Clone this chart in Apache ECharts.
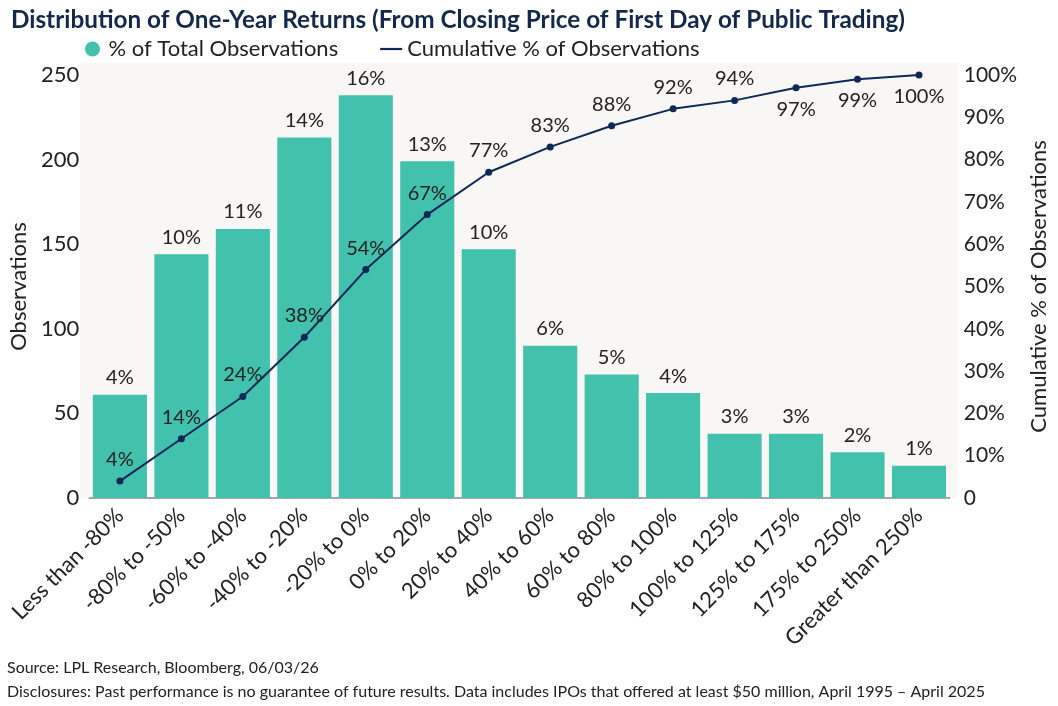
<!DOCTYPE html>
<html>
<head>
<meta charset="utf-8">
<script src="https://cdn.jsdelivr.net/npm/echarts@6/dist/echarts.min.js"></script>
<style>
  html, body { margin: 0; padding: 0; background: #fff; }
  #chart { width: 1058px; height: 706px; }
</style>
</head>
<body>
<div id="chart"></div>
<script>
// buckets of one-year return
const categories = ['Less than -80%', '-80% to -50%', '-60% to -40%', '-40% to -20%', '-20% to 0%',
    '0% to 20%', '20% to 40%', '40% to 60%', '60% to 80%', '80% to 100%',
    '100% to 125%', '125% to 175%', '175% to 250%', 'Greater than 250%'];
// number of observations (bars)
const observations = [61, 144, 159, 213, 238, 199, 147, 90, 73, 62, 38, 38, 27, 19];
// % of total shown above each bar
const pctOfTotal = [4, 10, 11, 14, 16, 13, 10, 6, 5, 4, 3, 3, 2, 1];
// cumulative % (line)
const cumulative = [4, 14, 24, 38, 54, 67, 77, 83, 88, 92, 94, 97, 99, 100];
const leftTicks = [0, 250, 50];
const rightTicks = [0, 100, 10];

const teal = '#42c1ad';
const navy = '#0e2858';
const font = 'Lato';
// points whose label sits under the marker
const labelBelow = [11, 12, 13];

const chart = echarts.init(document.getElementById('chart'));

chart.setOption({
    backgroundColor: '#fff',
    textStyle: { fontFamily: font },
    // plot background reaches a little above the top tick
    graphic: [{
        type: 'rect', z: -10, silent: true,
        shape: { x: 80, y: 63, width: 878, height: 435 },
        style: { fill: '#f8f7f5' }
    }],
    title: [{
        text: 'Distribution of One-Year Returns (From Closing Price of First Day of Public Trading)',
        left: 6, top: 3,
        textStyle: { fontFamily: font, fontSize: 24.3, fontWeight: 'bold', color: '#14284b' }
    }, {
        text: 'Source: LPL Research, Bloomberg, 06/03/26',
        left: 2, top: 655,
        textStyle: { fontFamily: font, fontSize: 16, fontWeight: 'normal', color: '#222' }
    }, {
        text: 'Disclosures: Past performance is no guarantee of future results. Data includes IPOs that offered at least $50 million, April 1995 \u2013 April 2025',
        left: 2, top: 679,
        textStyle: { fontFamily: font, fontSize: 16, fontWeight: 'normal', color: '#222' }
    }],
    legend: {
        left: 80, top: 33,
        itemGap: 42,
        itemWidth: 22, itemHeight: 15,
        textStyle: { fontFamily: font, fontSize: 22, color: '#222' },
        data: [
            { name: '% of Total Observations', icon: 'circle' },
            { name: 'Cumulative % of Observations', icon: 'path://M0,6 L20,6 L20,8 L0,8 Z', itemStyle: { color: navy } }
        ]
    },
    grid: {
        left: 80, right: 100, top: 75, bottom: 208
    },
    xAxis: {
        type: 'category',
        data: categories,
        axisTick: { show: false },
        axisLine: { lineStyle: { color: '#8a8a8a', width: 1.5 } },
        axisLabel: { rotate: 45, interval: 0, fontSize: 22, color: '#222', margin: 14, padding: [0, 0, 0, 0] }
    },
    yAxis: [{
        type: 'value',
        min: leftTicks[0], max: leftTicks[1], interval: leftTicks[2],
        name: 'Observations',
        nameLocation: 'middle', nameRotate: 90, nameGap: 56,
        nameTextStyle: { fontSize: 22, color: '#222' },
        splitLine: { show: false },
        axisLine: { show: false },
        axisTick: { show: false },
        axisLabel: { fontSize: 22, color: '#222', margin: 10 }
    }, {
        type: 'value',
        min: rightTicks[0], max: rightTicks[1], interval: rightTicks[2],
        name: 'Cumulative % of Observations',
        nameLocation: 'middle', nameRotate: 90, nameGap: 64,
        nameTextStyle: { fontSize: 22, color: '#222' },
        splitLine: { show: false },
        axisLine: { show: false },
        axisTick: { show: false },
        axisLabel: {
            fontSize: 21, color: '#222', margin: 14,
            formatter: v => v === 0 ? '0' : v + '%'
        }
    }],
    series: [{
        name: '% of Total Observations',
        type: 'bar',
        data: observations,
        barCategoryGap: '12%',
        itemStyle: { color: teal },
        label: {
            show: true, position: 'top', distance: 7,
            fontSize: 20, color: '#222',
            formatter: p => pctOfTotal[p.dataIndex] + '%'
        },
        z: 2
    }, {
        name: 'Cumulative % of Observations',
        type: 'line',
        yAxisIndex: 1,
        data: cumulative.map((v, i) => ({
            value: v,
            label: { position: labelBelow.includes(i) ? 'bottom' : 'top' }
        })),
        lineStyle: { color: navy, width: 2 },
        itemStyle: { color: navy },
        symbol: 'circle', symbolSize: 7,
        label: {
            show: true, fontSize: 20, color: '#222', distance: 8,
            formatter: '{c}%'
        },
        z: 3
    }]
});
</script>
</body>
</html>
